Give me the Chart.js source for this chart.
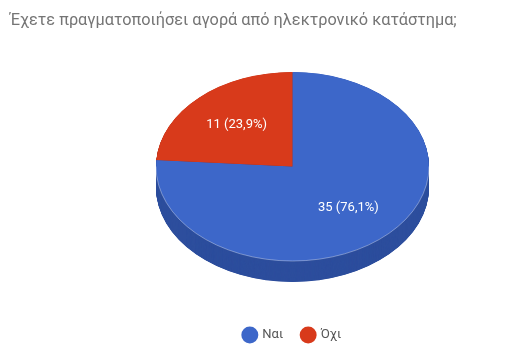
<!DOCTYPE html>
<html>
<head>
<meta charset="utf-8">
<script src="https://cdn.jsdelivr.net/npm/chart.js@4"></script>
<style>
  html, body { margin: 0; padding: 0; background: #fff; width: 509px; height: 352px; overflow: hidden; }
  #wrap { position: relative; width: 509px; height: 352px; }
  #c { position: absolute; left: 0; top: 0; }
  #title { position: absolute; left: 10px; top: 10px; font-family: Roboto, sans-serif; font-size: 16.3px; color: #757575; white-space: nowrap; }
</style>
</head>
<body>
<div id="wrap">
  <canvas id="c" width="509" height="352"></canvas>
  <div id="title">Έχετε πραγματοποιήσει αγορά από ηλεκτρονικό κατάστημα;</div>
</div>
<script>
// ---- data ----
const categories = ['Ναι', 'Όχι'];
const values = [35, 11];
const topColors = ['#3d67c9', '#d83a1b'];
const sideColors = ['#2d4e9d', '#a32c14'];

// ---- 3D look parameters ----
const SQUASH = 94.5 / 136.5;   // vertical squash of the pie disc
const DEPTH = 21;              // thickness in screen px
const RADIUS = 136.5;

const total = values.reduce((a, b) => a + b, 0);
function labelText(v) {
  return v + ' (' + (v / total * 100).toFixed(1).replace('.', ',') + '%)';
}

const pie3d = {
  id: 'pie3d',
  beforeDatasetsDraw(chart) {
    const meta = chart.getDatasetMeta(0);
    const ctx = chart.ctx;
    const a0 = meta.data[0];
    const cx = a0.x, cy = a0.y;
    ctx.save();
    ctx.translate(cx, cy);
    ctx.scale(1, SQUASH);
    ctx.translate(-cx, -cy);
    const depth = DEPTH / SQUASH;
    const order = meta.data.map((a, i) => i).sort((i, j) => {
      const a = meta.data[i], b = meta.data[j];
      return Math.sin((a.startAngle + a.endAngle) / 2) - Math.sin((b.startAngle + b.endAngle) / 2);
    });
    order.forEach(i => {
      const a = meta.data[i];
      ctx.fillStyle = sideColors[i];
      for (let off = depth; off > 0; off -= 0.5) {
        ctx.beginPath();
        ctx.moveTo(a.x, a.y + off);
        ctx.arc(a.x, a.y + off, a.outerRadius, a.startAngle, a.endAngle);
        ctx.closePath();
        ctx.fill();
      }
    });
  },
  afterDatasetsDraw(chart) {
    const ctx = chart.ctx;
    ctx.restore();
    const meta = chart.getDatasetMeta(0);
    const a0 = meta.data[0];
    const cx = a0.x, cy = a0.y, r = a0.outerRadius;
    // soft highlight along the front rim
    ctx.save();
    ctx.strokeStyle = 'rgba(255,255,255,0.35)';
    ctx.lineWidth = 1;
    ctx.beginPath();
    ctx.ellipse(cx, cy, r, r * SQUASH, 0, 0, Math.PI);
    ctx.stroke();
    ctx.restore();
    // value labels
    ctx.save();
    ctx.font = '13px Roboto, sans-serif';
    ctx.fillStyle = '#ffffff';
    ctx.textAlign = 'center';
    ctx.textBaseline = 'middle';
    meta.data.forEach((a, i) => {
      const mid = (a.startAngle + a.endAngle) / 2;
      const x = a.x + 0.6 * a.outerRadius * Math.cos(mid);
      const y = a.y + 0.6 * a.outerRadius * Math.sin(mid) * SQUASH;
      ctx.fillText(labelText(values[i]), x, y);
    });
    ctx.restore();
  }
};

new Chart(document.getElementById('c'), {
  type: 'pie',
  data: {
    labels: categories,
    datasets: [{
      data: values,
      backgroundColor: topColors,
      borderWidth: 0,
      radius: RADIUS
    }]
  },
  options: {
    responsive: false,
    animation: false,
    layout: { padding: { left: 76, right: 0, top: 23.5, bottom: 0.5 } },
    plugins: {
      title: { display: false },
      tooltip: { enabled: false },
      legend: {
        display: true,
        position: 'bottom',
        labels: {
          usePointStyle: true,
          pointStyle: 'circle',
          boxWidth: 12,
          boxHeight: 12,
          padding: 19,
          color: '#555555',
          font: { family: 'Roboto, sans-serif', size: 13 }
        }
      }
    }
  },
  plugins: [pie3d]
});
</script>
</body>
</html>
